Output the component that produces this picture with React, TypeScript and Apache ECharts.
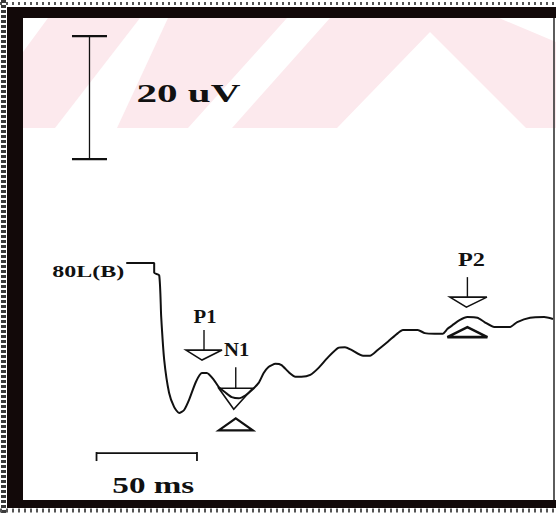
import React, { useEffect, useRef } from "react";
import * as echarts from "echarts";

// Evoked-potential trace (time in ms after onset, amplitude in µV)
const latencyMs = [-13.9, 0, 0, 2.5, 3.5, 5.0, 7.4, 9.9, 12.4, 14.9, 17.3, 20.8, 23.8, 26.2, 29.7, 32.2, 35.6, 38.6, 42.1, 45.5, 48.5, 52.0, 54.5, 56.9, 60.4, 63.4, 66.8, 70.3, 73.3, 77.7, 81.7, 86.6, 91.6, 95.0, 98.0, 104.0, 107.4, 111.4, 116.3, 121.3, 123.8, 131.2, 134.7, 139.6, 143.6, 146.0, 148.5, 152.0, 155.9, 160.9, 164.4, 169.3, 177.2, 180.7, 187.1, 194.1, 198.5];
const amplitudeUV = [0, 0, -1.6, -2.0, -8.8, -15.8, -21.1, -23.4, -24.4, -23.9, -22.3, -19.3, -17.9, -17.9, -19.0, -20.2, -21.1, -21.8, -22.0, -21.5, -20.7, -19.5, -17.9, -16.9, -16.4, -16.6, -17.7, -18.5, -18.5, -18.2, -17.1, -15.3, -13.8, -13.7, -14.1, -15.1, -15.1, -14.1, -12.8, -11.4, -10.9, -10.9, -11.4, -11.5, -11.5, -10.7, -10.1, -9.3, -8.8, -8.9, -9.6, -10.4, -10.4, -9.6, -8.9, -8.8, -9.1];

const peakLabels = ["P1", "N1", "P2"];
const peakLatencyMs = [24.8, 40.6, 155.9];
const peakAmplitudeUV = [-17.9, -22.0, -8.8];

const traceLabel = "80L(B)";
const scaleBarUV = 20;
const scaleBarMs = 50;
const scaleBarUnitV = "uV";
const scaleBarUnitT = "ms";

// layout anchors of the calibration bars (in data units)
const vBarAnchor = [-32.2, 16.9];
const hBarAnchor = [-28.7, -30.9];

const INK = "#111";
const FRAME = "#120909";
const PINK = "rgb(252,233,237)";

type MarkerCfg = {
  label: [number, number];
  labelScale: number;
  stem: [number, number];
  down: { dx: number; top: number; apex: number; half: number; lw: number };
  up?: { dx: number; apex: number; base: number; half: number; lw: number };
};

const markerCfg: Record<string, MarkerCfg> = {
  P1: {
    label: [1, -56],
    labelScale: 1.15,
    stem: [-43, -23],
    down: { dx: 0, top: -23, apex: -13, half: 18, lw: 1.6 },
  },
  N1: {
    label: [1, -48],
    labelScale: 1.15,
    stem: [-31, -10],
    down: { dx: 0, top: -10, apex: 11, half: 17, lw: 1.6 },
    up: { dx: 0, apex: 20, base: 32, half: 17, lw: 2.2 },
  },
  P2: {
    label: [4, -57],
    labelScale: 1.35,
    stem: [-40, -20],
    down: { dx: 1, top: -20, apex: -10, half: 18.5, lw: 1.6 },
    up: { dx: 0, apex: 10, base: 20, half: 20, lw: 2.6 },
  },
};

function txt(x: number, y: number, text: string, size: number, align: string, scaleX: number, z = 20) {
  return {
    type: "text",
    x,
    y,
    scaleX,
    z,
    style: {
      text,
      font: `bold ${size}px "Liberation Serif", "Times New Roman", serif`,
      fill: INK,
      textAlign: align,
      textVerticalAlign: "middle",
      align,
      verticalAlign: "middle",
    },
  };
}

function ln(x1: number, y1: number, x2: number, y2: number, w: number, color = INK, z = 15, dash?: number[]) {
  return {
    type: "line",
    z,
    shape: { x1, y1, x2, y2 },
    style: { stroke: color, lineWidth: w, lineDash: dash },
  };
}

function poly(points: number[][], fill: string, stroke?: string, lw = 0, z = 1) {
  return {
    type: "polygon",
    z,
    shape: { points },
    style: { fill, stroke: stroke || undefined, lineWidth: lw },
  };
}

export default function App() {
  const ref = useRef<HTMLDivElement>(null);

  useEffect(() => {
    document.body.style.margin = "0";
    if (!ref.current) return;
    const chart = echarts.init(ref.current, null, { renderer: "svg", width: 556, height: 513 });
    chart.setOption({
      animation: false,
      backgroundColor: "#fff",
      grid: { left: 3.5, width: 555.5, top: 17, height: 492 },
      xAxis: { type: "value", min: -75, max: 200, show: false },
      yAxis: { type: "value", min: -40, max: 40, show: false },
      series: [
        {
          type: "line",
          data: latencyMs.map((t, i) => [t, amplitudeUV[i]]),
          showSymbol: false,
          smooth: 0.2,
          lineStyle: { color: INK, width: 2 },
          z: 12,
        },
      ],
    });

    const px = (t: number, v: number) => chart.convertToPixel({ gridIndex: 0 }, [t, v]) as number[];

    const els: any[] = [];
    // watermark
    els.push({ type: "rect", z: 0, shape: { x: 0, y: 0, width: 556, height: 128 }, style: { fill: PINK } });
    els.push(poly([[23, 18], [48, 18], [23, 52]], "#fff"));
    els.push(poly([[55, 128], [117, 128], [168, 18], [140, 18]], "#fff"));
    els.push(poly([[188, 128], [232, 128], [330, 18], [287, 18]], "#fff"));
    els.push(poly([[430, 32], [337, 128], [526, 128]], "#fff"));
    els.push(poly([[499, 18], [556, 18], [556, 42]], "#fff"));

    // frame
    els.push({ type: "rect", z: 2, shape: { x: 0, y: 0, width: 556, height: 7 }, style: { fill: "#fff" } });
    els.push(ln(0, 3.5, 556, 3.5, 3, "#555", 3, [2, 4]));
    els.push({ type: "rect", z: 2, shape: { x: 0, y: 7, width: 556, height: 11 }, style: { fill: FRAME } });
    els.push({ type: "rect", z: 2, shape: { x: 0, y: 0, width: 7, height: 513 }, style: { fill: "#fff" } });
    els.push(ln(3.5, 0, 3.5, 513, 5, "#3a3a3a", 3, [3, 2]));
    els.push({ type: "rect", z: 2, shape: { x: 7, y: 7, width: 16, height: 501 }, style: { fill: FRAME } });
    els.push({ type: "rect", z: 2, shape: { x: 7, y: 500, width: 549, height: 8 }, style: { fill: FRAME } });
    els.push(ln(0, 510.5, 556, 510.5, 4, "#555", 3, [2, 4]));
    els.push(ln(554, 18, 554, 500, 1.6, "#333", 3));

    // vertical calibration bar
    const vb0 = px(vBarAnchor[0], vBarAnchor[1]);
    const vb1 = px(vBarAnchor[0], vBarAnchor[1] + scaleBarUV);
    els.push(ln(vb0[0], vb0[1], vb1[0], vb1[1], 1.3));
    els.push(ln(vb0[0] - 17.5, vb0[1], vb0[0] + 17.5, vb0[1], 2.2));
    els.push(ln(vb1[0] - 17.5, vb1[1], vb1[0] + 17.5, vb1[1], 2.2));
    els.push(txt(vb0[0] + 47, (vb0[1] + vb1[1]) / 2 - 5, `${scaleBarUV} ${scaleBarUnitV}`, 26, "left", 1.58));

    // horizontal calibration bar
    const hb0 = px(hBarAnchor[0], hBarAnchor[1]);
    const hb1 = px(hBarAnchor[0] + scaleBarMs, hBarAnchor[1]);
    els.push(ln(hb0[0], hb0[1], hb1[0], hb1[1], 1.8));
    els.push(ln(hb0[0], hb0[1] - 1, hb0[0], hb0[1] + 8, 1.8));
    els.push(ln(hb1[0], hb1[1] - 1, hb1[0], hb1[1] + 8, 1.8));
    els.push(txt((hb0[0] + hb1[0]) / 2 + 6.5, hb0[1] + 32, `${scaleBarMs} ${scaleBarUnitT}`, 24, "center", 1.38));

    // trace label
    const st = px(latencyMs[0], amplitudeUV[0]);
    els.push(txt(st[0] - 2, st[1] + 9, traceLabel, 16, "right", 1.5));

    // peak markers
    peakLabels.forEach((name, i) => {
      const c = markerCfg[name];
      const [x, y] = px(peakLatencyMs[i], peakAmplitudeUV[i]);
      els.push(txt(x + c.label[0], y + c.label[1], name, 18, "center", c.labelScale));
      els.push(ln(x, y + c.stem[0], x, y + c.stem[1], 1.4));
      const d = c.down;
      els.push(
        poly(
          [
            [x + d.dx - d.half, y + d.top],
            [x + d.dx + d.half, y + d.top],
            [x + d.dx - 2, y + d.apex],
          ],
          "none",
          INK,
          d.lw,
          14
        )
      );
      if (c.up) {
        const u = c.up;
        els.push(
          poly(
            [
              [x + u.dx - u.half, y + u.base],
              [x + u.dx + u.half, y + u.base],
              [x + u.dx, y + u.apex],
            ],
            "none",
            INK,
            u.lw,
            14
          )
        );
      }
    });

    chart.setOption({ graphic: { elements: els } });
    return () => chart.dispose();
  }, []);

  return <div ref={ref} style={{ width: 556, height: 513 }} />;
}
